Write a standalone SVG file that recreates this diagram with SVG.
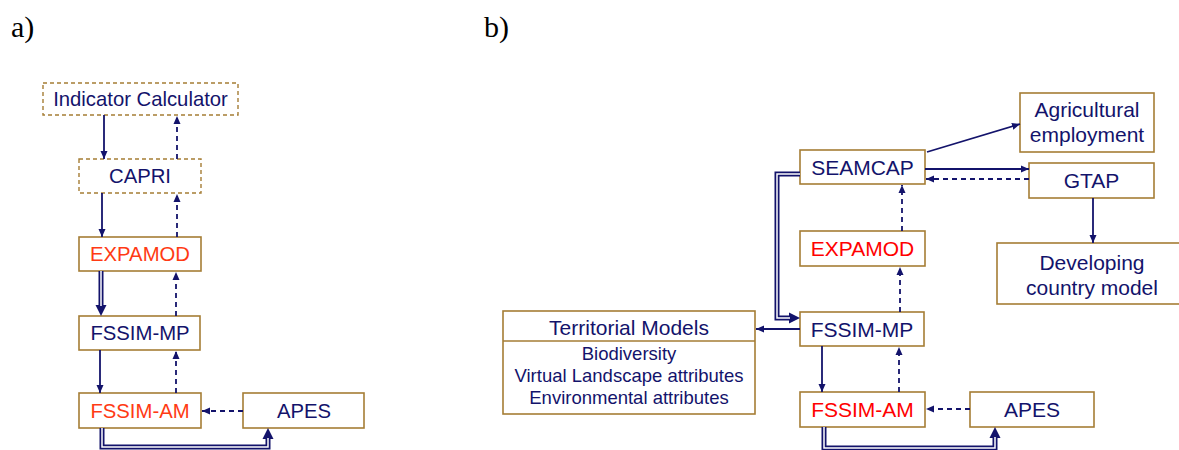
<svg xmlns="http://www.w3.org/2000/svg" width="1179" height="450" viewBox="0 0 1179 450">
<style>
.box{fill:#fff;stroke:#a57d35;stroke-width:1.6}
.dbox{fill:#fff;stroke:#a57d35;stroke-width:1.4;stroke-dasharray:4,3}
.t{font-family:"Liberation Sans",Arial,sans-serif;fill:#13136b;text-anchor:middle}
.ta{font-size:20.3px}
.tb{font-size:21px}
.ts{font-size:18.5px}
.red{fill:#ff3a14}
.redb{fill:#ff0000}
.lbl{font-family:"Liberation Serif","Times New Roman",serif;font-size:30px;fill:#000}
.ln{fill:none;stroke:#13136b;stroke-width:1.8}
.ds{fill:none;stroke:#13136b;stroke-width:1.8;stroke-dasharray:5,4}
.dbl{fill:none;stroke:#13136b;stroke-width:5}
.dblw{fill:none;stroke:#fff;stroke-width:1.5}
</style>
<defs>
<marker id="ah" markerUnits="userSpaceOnUse" markerWidth="9" markerHeight="8" refX="8" refY="4" orient="auto">
<path d="M0,0.5 L8,4 L0,7.5 z" fill="#13136b"/>
</marker>
<marker id="ahb" markerUnits="userSpaceOnUse" markerWidth="12" markerHeight="12" refX="2" refY="6" orient="auto">
<path d="M0,0.5 L11,6 L0,11.5 z" fill="#13136b"/>
</marker>
</defs>

<text class="lbl" x="11" y="37">a)</text>
<text class="lbl" x="484" y="37">b)</text>

<!-- Panel a nodes -->
<g id="a-indicator"><rect class="dbox" x="43" y="83" width="195" height="32"/><text class="t ta" x="140.5" y="106">Indicator Calculator</text></g>
<g id="a-capri"><rect class="dbox" x="79" y="159" width="122" height="34"/><text class="t ta" x="140" y="183">CAPRI</text></g>
<g id="a-expamod"><rect class="box" x="79" y="237" width="122" height="34"/><text class="t ta red" x="140" y="261">EXPAMOD</text></g>
<g id="a-fssim-mp"><rect class="box" x="79" y="316" width="121" height="34"/><text class="t ta" x="140" y="340">FSSIM-MP</text></g>
<g id="a-fssim-am"><rect class="box" x="79" y="393" width="122" height="35"/><text class="t ta red" x="140" y="418">FSSIM-AM</text></g>
<g id="a-apes"><rect class="box" x="243" y="393" width="121" height="35"/><text class="t ta" x="304" y="418">APES</text></g>

<!-- Panel b nodes -->
<g id="b-seamcap"><rect class="box" x="800" y="150" width="125" height="34"/><text class="t tb" x="862.5" y="175">SEAMCAP</text></g>
<g id="b-agri"><rect class="box" x="1020" y="93" width="134" height="59"/><text class="t tb" x="1087" y="117">Agricultural</text><text class="t tb" x="1087" y="142">employment</text></g>
<g id="b-gtap"><rect class="box" x="1029" y="163" width="125" height="35"/><text class="t tb" x="1091.5" y="188">GTAP</text></g>
<g id="b-dev"><rect class="box" x="997" y="243" width="190" height="61"/><text class="t tb" x="1092" y="270">Developing</text><text class="t tb" x="1092" y="295">country model</text></g>
<g id="b-expamod"><rect class="box" x="800" y="231" width="125" height="35"/><text class="t tb redb" x="862.5" y="256">EXPAMOD</text></g>
<g id="b-fssim-mp"><rect class="box" x="800" y="312" width="124" height="34"/><text class="t tb" x="862" y="337">FSSIM-MP</text></g>
<g id="b-fssim-am"><rect class="box" x="800" y="392" width="125" height="35"/><text class="t tb redb" x="862.5" y="417">FSSIM-AM</text></g>
<g id="b-apes"><rect class="box" x="970" y="392" width="124" height="35"/><text class="t tb" x="1032" y="417">APES</text></g>
<g id="b-territorial"><rect class="box" x="503" y="311" width="252" height="103"/><line x1="503" y1="341" x2="755" y2="341" stroke="#a57d35" stroke-width="1.6"/>
<text class="t tb" x="629" y="335">Territorial Models</text>
<text class="t ts" x="629" y="360">Biodiversity</text>
<text class="t ts" x="629" y="382">Virtual Landscape attributes</text>
<text class="t ts" x="629" y="404">Environmental attributes</text></g>

<g id="connectors">
<!-- panel a -->
<path class="ln" d="M104,115 V159" marker-end="url(#ah)"/>
<path class="ds" d="M177,159 V116" marker-end="url(#ah)"/>
<path class="ln" d="M102,193 V237" marker-end="url(#ah)"/>
<path class="ds" d="M177,237 V194" marker-end="url(#ah)"/>
<path class="dbl" d="M101,271 V307" marker-end="url(#ahb)"/>
<path class="dblw" d="M101,271 V306"/>
<path class="ds" d="M176,316 V272" marker-end="url(#ah)"/>
<path class="ln" d="M100,350 V393" marker-end="url(#ah)"/>
<path class="ds" d="M176,393 V351" marker-end="url(#ah)"/>
<path class="ds" d="M243,411 H202" marker-end="url(#ah)"/>
<path class="dbl" d="M102,428 V447 H268 V437" marker-end="url(#ahb)"/>
<path class="dblw" d="M102,428 V447 H268 V438"/>
<!-- panel b -->
<path class="ln" d="M927,152 L1020,124" marker-end="url(#ah)"/>
<path class="ln" d="M925,169 H1029" marker-end="url(#ah)"/>
<path class="ds" d="M1029,179 H926" marker-end="url(#ah)"/>
<path class="ln" d="M1093,198 V243" marker-end="url(#ah)"/>
<path class="ds" d="M902,231 V185" marker-end="url(#ah)"/>
<path class="ds" d="M900,312 V267" marker-end="url(#ah)"/>
<path class="dbl" d="M800,174 H777 V318 H791" marker-end="url(#ahb)"/>
<path class="dblw" d="M800,174 H777 V318 H790"/>
<path class="ln" d="M800,329 H756" marker-end="url(#ah)"/>
<path class="ln" d="M822,346 V392" marker-end="url(#ah)"/>
<path class="ds" d="M899,392 V347" marker-end="url(#ah)"/>
<path class="ds" d="M970,409 H926" marker-end="url(#ah)"/>
<path class="dbl" d="M824,427 V448 H995 V436" marker-end="url(#ahb)"/>
<path class="dblw" d="M824,427 V448 H995 V437"/>
</g>
</svg>
